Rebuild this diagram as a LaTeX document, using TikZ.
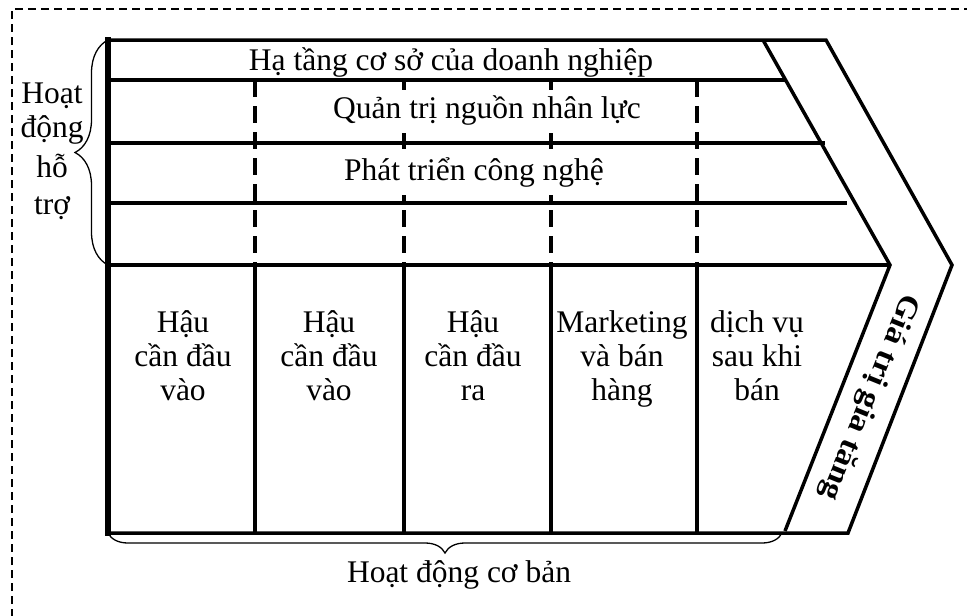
\documentclass[tikz,border=0pt]{standalone}
\usepackage{fontspec}
\setmainfont{Liberation Serif}
\usepackage{graphicx}
\usetikzlibrary{decorations.pathreplacing}
\begin{document}
\begin{tikzpicture}[x=1pt,y=-1pt,
  frame/.style={line width=3.5pt},
  sepdash/.style={line width=3.8pt, dash pattern=on 17pt off 9pt},
  lbl/.style={font=\fontsize{31.5}{34}\selectfont, inner sep=0pt, anchor=base},
  rowlbl/.style={lbl, fill=white, inner xsep=3pt, inner ysep=5pt, text depth=10pt},
  brc/.style={decorate, decoration={brace, amplitude=#1}, line width=1.3pt},
]
\clip (0,0) rectangle (967,616);
% outer dashed border (cropped)
\draw[dash pattern=on 8pt off 5pt, line width=1.2pt] (12,630) -- (12,9) -- (980,9);

% key points
\coordinate (TL) at (108,40);
\coordinate (BL) at (108,533);
\coordinate (TR) at (826,40);
\coordinate (I1) at (763,40);
\coordinate (P) at (890,265);
\coordinate (Q) at (952,265);
\coordinate (R1) at (785,531);
\coordinate (BR) at (848,533);
\coordinate (ML) at (108,265);

% outline
\draw[frame] (TL) -- (TR) -- (Q) -- (BR) -- (BL);
\draw[frame] (I1) -- (P) -- (R1);
\draw[frame] (ML) -- (P);
\draw[line width=6pt] (108,37) -- (108,536);

% support rows
\draw[frame] (108,80) -- (785,80);
\draw[frame] (108,143) -- (825,143);
\draw[frame] (108,203) -- (847,203);

% columns
\foreach \x in {255,404,551,697}{
  \draw[frame] (\x,265) -- (\x,533);
  \draw[sepdash] (\x,80) -- (\x,265);
}

% braces
\draw[brc=33] (108,265) -- (108,40);
\draw[brc=20] (782,533) -- (108,533);

% row texts
\node[lbl] (t1) at (451,70) {Hạ tầng cơ sở của doanh nghiệp};
\node[rowlbl] (t2) at (487,118) {Quản trị nguồn nhân lực};
\node[rowlbl] (t3) at (474,180) {Phát triển công nghệ};

% left label
\node[lbl] (s1) at (52,103) {Hoạt};
\node[lbl] (s2) at (52,137) {động};
\node[lbl] (s3) at (52,177) {hỗ};
\node[lbl] (s4) at (52,214) {trợ};

% column texts
\node[lbl] (a1) at (183,332) {Hậu};
\node[lbl] (a2) at (183,366) {cần đầu};
\node[lbl] (a3) at (183,400) {vào};
\node[lbl] (b1) at (329,332) {Hậu};
\node[lbl] (b2) at (329,366) {cần đầu};
\node[lbl] (b3) at (329,400) {vào};
\node[lbl] (c1) at (473,332) {Hậu};
\node[lbl] (c2) at (473,366) {cần đầu};
\node[lbl] (c3) at (473,400) {ra};
\node[lbl] (d1) at (622,332) {Marketing};
\node[lbl] (d2) at (622,366) {và bán};
\node[lbl] (d3) at (622,400) {hàng};
\node[lbl] (e1) at (757,332) {dịch vụ};
\node[lbl] (e2) at (757,366) {sau khi};
\node[lbl] (e3) at (757,400) {bán};

% bottom label
\node[lbl] (base) at (459,582) {Hoạt động cơ bản};

% value added
\node[inner sep=0pt, rotate=248, font=\fontsize{30}{32}\bfseries\selectfont] (gt) at (869,397) {\scalebox{1.12}[1]{Giá trị gia tăng}};
\end{tikzpicture}
\end{document}
